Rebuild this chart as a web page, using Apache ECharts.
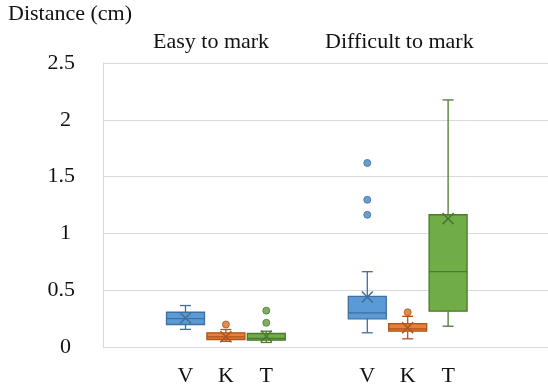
<!DOCTYPE html>
<html><head><meta charset="utf-8">
<script src="https://cdn.jsdelivr.net/npm/echarts@6/dist/echarts.min.js"></script>
<style>html,body{margin:0;padding:0;background:#fff}#c{width:548px;height:387px}</style>
</head><body><div id="c"></div>
<script>
// ---- data ----
const groups = ['Easy to mark', 'Difficult to mark'];
const methods = ['V', 'K', 'T'];
const yTicks = [0, 0.5, 1, 1.5, 2, 2.5];
const yTitle = 'Distance (cm)';
// [min, Q1, median, Q3, max] for V, K, T
const easyBoxes = [
  [0.155, 0.198, 0.25, 0.306, 0.365],
  [0.05, 0.066, 0.09, 0.125, 0.154],
  [0.04, 0.06, 0.075, 0.119, 0.139]
];
const difficultBoxes = [
  [0.125, 0.248, 0.30, 0.446, 0.663],
  [0.072, 0.139, 0.16, 0.206, 0.27],
  [0.183, 0.315, 0.663, 1.164, 2.175]
];
const easyMeans = [0.255, 0.09, 0.095];
const difficultMeans = [0.44, 0.169, 1.13];
const easyOutliers = [[], [0.198], [0.213, 0.32]];
const difficultOutliers = [[1.164, 1.296, 1.62], [0.306], []];

// ---- styling / layout ----
const FILLS = ['#5b9bd5', '#ed7d31', '#70ad47'];
const STROKES = ['#3f6f9e', '#a9551d', '#4b7a2e'];
const DOTS = ['#4a84c0', '#d86e28', '#5f9a3c'];
const FONT = 'Liberation Serif';
const BOX_W = 38, CAP_W = 11, MEAN_S = 11;
const groupSlot = [0, 9], methodStep = 2, slotCount = 14;

const boxSets = [easyBoxes, difficultBoxes];
const meanSets = [easyMeans, difficultMeans];
const outSets = [easyOutliers, difficultOutliers];

const slotLabels = new Array(slotCount).fill('');
groups.forEach((g, gi) => methods.forEach((m, mi) => { slotLabels[groupSlot[gi] + mi * methodStep] = m; }));

function makeRender(mi) {
  return function (params, api) {
    const x = api.value(0);
    const lo = api.coord([x, api.value(1)]);
    const q1 = api.coord([x, api.value(2)]);
    const md = api.coord([x, api.value(3)]);
    const q3 = api.coord([x, api.value(4)]);
    const hi = api.coord([x, api.value(5)]);
    const mn = api.coord([x, api.value(6)]);
    const cx = q1[0];
    const st = { stroke: STROKES[mi], lineWidth: 1.3, fill: null };
    const sx = { stroke: STROKES[mi], lineWidth: 1.6, fill: null };
    const hw = BOX_W / 2, cw = CAP_W / 2, s = MEAN_S / 2;
    return { type: 'group', children: [
      { type: 'line', shape: { x1: cx, y1: hi[1], x2: cx, y2: q3[1] }, style: st },
      { type: 'line', shape: { x1: cx, y1: q1[1], x2: cx, y2: lo[1] }, style: st },
      { type: 'line', shape: { x1: cx - cw, y1: hi[1], x2: cx + cw, y2: hi[1] }, style: st },
      { type: 'line', shape: { x1: cx - cw, y1: lo[1], x2: cx + cw, y2: lo[1] }, style: st },
      { type: 'rect', shape: { x: cx - hw, y: q3[1], width: BOX_W, height: q1[1] - q3[1] },
        style: { fill: FILLS[mi], stroke: STROKES[mi], lineWidth: 1.3 } },
      { type: 'line', shape: { x1: cx - hw, y1: md[1], x2: cx + hw, y2: md[1] }, style: st },
      { type: 'line', shape: { x1: cx - s, y1: mn[1] - s, x2: cx + s, y2: mn[1] + s }, style: sx },
      { type: 'line', shape: { x1: cx - s, y1: mn[1] + s, x2: cx + s, y2: mn[1] - s }, style: sx }
    ]};
  };
}

const series = [];
methods.forEach((m, mi) => {
  const data = groups.map((g, gi) => [groupSlot[gi] + mi * methodStep].concat(boxSets[gi][mi], [meanSets[gi][mi]]));
  series.push({
    type: 'custom', name: m, xAxisIndex: 1, yAxisIndex: 1,
    renderItem: makeRender(mi), encode: { x: 0, y: [1, 2, 3, 4, 5, 6] }, data: data
  });
  const pts = [];
  groups.forEach((g, gi) => outSets[gi][mi].forEach(v => pts.push([groupSlot[gi] + mi * methodStep, v])));
  series.push({
    type: 'scatter', name: m + ' outliers', xAxisIndex: 1, yAxisIndex: 1,
    symbol: 'circle', symbolSize: 7, data: pts,
    itemStyle: { color: DOTS[mi], borderColor: STROKES[mi], borderWidth: 1 }
  });
});

const chart = echarts.init(document.getElementById('c'), null, { renderer: 'canvas' });
const txt = { fontFamily: FONT, fontSize: 22, color: '#111' };
chart.setOption({
  animation: false,
  backgroundColor: '#fff',
  grid: [
    { left: 103, right: 0, top: 63, bottom: 40 },
    { left: 175.4, right: 89.8, top: 63, bottom: 40 }
  ],
  xAxis: [
    { gridIndex: 0, type: 'value', show: false, min: 0, max: 1 },
    { gridIndex: 1, type: 'category', data: slotLabels,
      axisLine: { show: false }, axisTick: { show: false },
      axisLabel: Object.assign({ interval: 0, margin: 18 }, txt) }
  ],
  yAxis: [
    { gridIndex: 0, type: 'value', min: yTicks[0], max: yTicks[yTicks.length - 1], interval: yTicks[1] - yTicks[0],
      axisLine: { show: true, lineStyle: { color: '#d9d9d9', width: 1 } }, axisTick: { show: false },
      splitLine: { show: true, lineStyle: { color: '#d9d9d9', width: 1 } },
      axisLabel: Object.assign({
        margin: 28,
        formatter: v => (v % 1 === 0 ? '{i|' + v + '}' : String(v)),
        rich: { i: { fontFamily: FONT, fontSize: 22, color: '#111', padding: [0, 4, 0, 0] } }
      }, txt) },
    { gridIndex: 1, type: 'value', min: yTicks[0], max: yTicks[yTicks.length - 1], show: false,
      splitLine: { show: false } }
  ],
  graphic: [
    { type: 'text', left: 8, top: 3, style: { text: yTitle, font: '22px "' + FONT + '"', fill: '#111' } },
    { type: 'text', left: 153, top: 31, style: { text: groups[0], font: '22px "' + FONT + '"', fill: '#111' } },
    { type: 'text', left: 325, top: 31, style: { text: groups[1], font: '22px "' + FONT + '"', fill: '#111' } }
  ],
  series: series
});
</script></body></html>
